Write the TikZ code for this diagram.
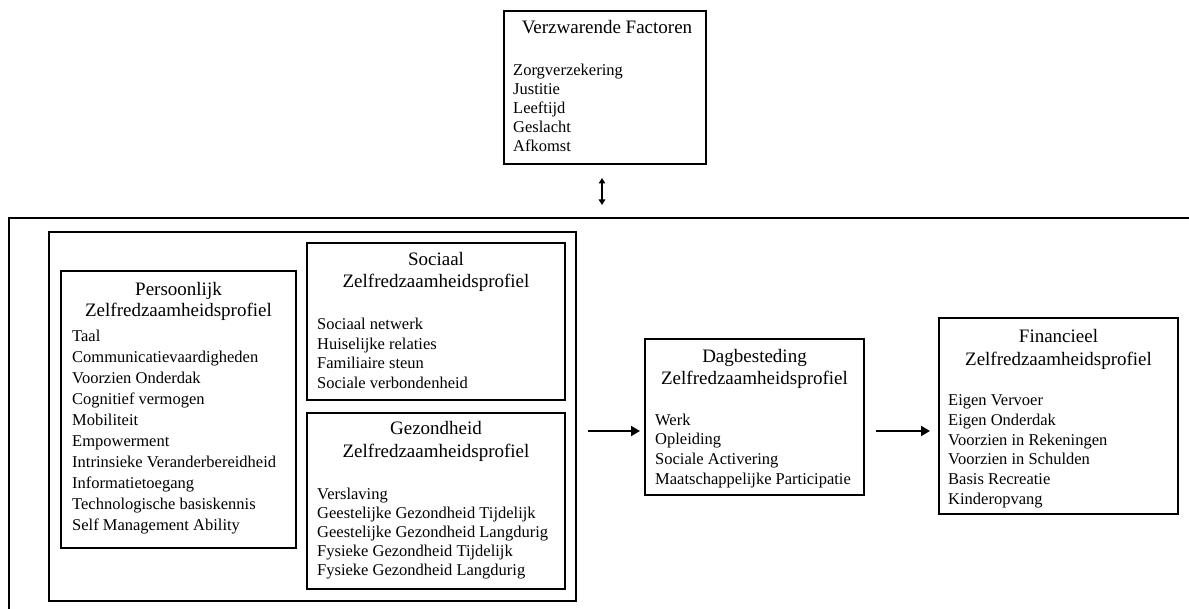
\documentclass[tikz,border=0pt]{standalone}
\usepackage{fontspec}
\setmainfont{Liberation Serif}
\usetikzlibrary{arrows.meta}
\begin{document}
\begin{tikzpicture}[x=1pt,y=-1pt,
  box/.style={draw, line width=2.6pt, anchor=north west, inner sep=0pt, outer sep=0pt},
  ttl/.style={font=\fontsize{19}{22}\selectfont, anchor=base, inner sep=0pt},
  itm/.style={font=\fontsize{16.5}{19}\selectfont, anchor=base west, inner sep=0pt},
  arr/.style={line width=2.5pt, -{Triangle[length=9pt,width=10pt]}},
  darr/.style={line width=1.3pt, {Triangle[length=5.5pt,width=6.5pt]}-{Triangle[length=5.5pt,width=6.5pt]}},
  frame/.style={line width=2.8pt}
]
\useasboundingbox (0,0) rectangle (1189,609);

% Verzwarende Factoren
\node[box, minimum width=202pt, minimum height=153pt] (vf) at (504,11) {};
\node[ttl] (vft) at (607,34) {Verzwarende Factoren};
\foreach \t [count=\i from 0] in {Zorgverzekering, Justitie, Leeftijd, Geslacht, Afkomst}
  \node[itm] (vf\i) at (513,76+19*\i) {\t};

% outer frame (partly visible)
\coordinate (oBL) at (9,612);
\coordinate (oTL) at (9,218);
\coordinate (oTR) at (1192,218);
\coordinate (oA) at (602,218);
\draw[frame] (oBL) -- (oTL) -- (oTR);
\draw[darr] ([xshift=-3pt,yshift=-14pt]vf.south) -- ([yshift=13pt]oA);

% group box
\node[box, minimum width=527pt, minimum height=369pt] (grp) at (49,232) {};

% Persoonlijk
\node[box, minimum width=235pt, minimum height=277pt] (pers) at (61,271) {};
\node[ttl] (perst1) at (178.5,296) {Persoonlijk};
\node[ttl] (perst2) at (178.5,317) {Zelfredzaamheidsprofiel};
\foreach \t [count=\i from 0] in {Taal, Communicatievaardigheden, Voorzien Onderdak, Cognitief vermogen, Mobiliteit, Empowerment, Intrinsieke Veranderbereidheid, Informatietoegang, Technologische basiskennis, Self Management Ability}
  \node[itm] (pers\i) at (72,342+20.9*\i) {\t};

% Sociaal
\node[box, minimum width=258pt, minimum height=157pt] (soc) at (307,243) {};
\node[ttl] (soct1) at (436,266) {Sociaal};
\node[ttl] (soct2) at (436,288) {Zelfredzaamheidsprofiel};
\foreach \t [count=\i from 0] in {Sociaal netwerk, Huiselijke relaties, Familiaire steun, Sociale verbondenheid}
  \node[itm] (soc\i) at (317,330+19.5*\i) {\t};

% Gezondheid
\node[box, minimum width=258pt, minimum height=176pt] (gez) at (307,413) {};
\node[ttl] (gezt1) at (436,435) {Gezondheid};
\node[ttl] (gezt2) at (436,457) {Zelfredzaamheidsprofiel};
\foreach \t [count=\i from 0] in {Verslaving, Geestelijke Gezondheid Tijdelijk, Geestelijke Gezondheid Langdurig, Fysieke Gezondheid Tijdelijk, Fysieke Gezondheid Langdurig}
  \node[itm] (gez\i) at (317,499+19*\i) {\t};

% Dagbesteding
\node[box, minimum width=219pt, minimum height=156pt] (dag) at (645,339) {};
\node[ttl] (dagt1) at (754.5,363) {Dagbesteding};
\node[ttl] (dagt2) at (754.5,385) {Zelfredzaamheidsprofiel};
\foreach \t [count=\i from 0] in {Werk, Opleiding, Sociale Activering, Maatschappelijke Participatie}
  \node[itm] (dag\i) at (655,425+19.7*\i) {\t};

% Financieel
\node[box, minimum width=239pt, minimum height=196pt] (fin) at (939,318) {};
\node[ttl] (fint1) at (1058.5,343) {Financieel};
\node[ttl] (fint2) at (1058.5,366) {Zelfredzaamheidsprofiel};
\foreach \t [count=\i from 0] in {Eigen Vervoer, Eigen Onderdak, Voorzien in Rekeningen, Voorzien in Schulden, Basis Recreatie, Kinderopvang}
  \node[itm] (fin\i) at (948,406+19.6*\i) {\t};

% arrows
\draw[arr] ([xshift=12pt,yshift=-14.5pt]grp.east) -- ([xshift=-5pt,yshift=-14pt]dag.west);
\draw[arr] ([xshift=12pt,yshift=-14pt]dag.east) -- ([xshift=-9pt,yshift=-15pt]fin.west);
\end{tikzpicture}
\end{document}
